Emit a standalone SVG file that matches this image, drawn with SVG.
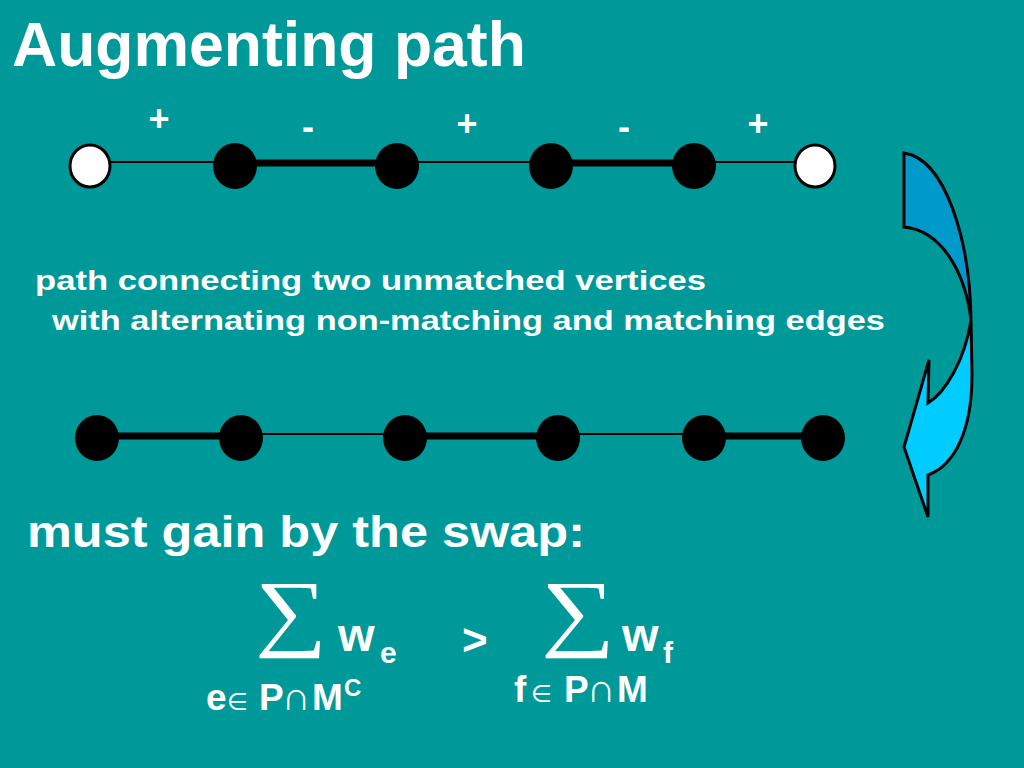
<svg xmlns="http://www.w3.org/2000/svg" width="1024" height="768" viewBox="0 0 1024 768">
<style>
.t{font-family:"Liberation Sans",Arial,sans-serif;font-weight:bold;fill:#fff}
.sym{font-family:"DejaVu Sans",sans-serif;font-weight:normal}
.cap{font-family:"Liberation Sans",Arial,sans-serif;font-weight:normal}
.blk{fill:#000}
.wht{fill:#fff;stroke:#000;stroke-width:3}
.thin{stroke:#000;stroke-width:2;fill:none}
.thick{stroke:#000;stroke-width:7;fill:none}
.sig{font-family:"Liberation Serif","DejaVu Serif",serif;fill:#fff}
</style>
<rect width="1024" height="768" fill="#009999"/>
<text class="t" x="12" y="66" font-size="62.5">Augmenting path</text>
<g id="signs">
<text class="t" x="159" y="131" font-size="36" text-anchor="middle">+</text>
<text class="t" x="308" y="139" font-size="36" text-anchor="middle">-</text>
<text class="t" x="467" y="136" font-size="36" text-anchor="middle">+</text>
<text class="t" x="624" y="139" font-size="36" text-anchor="middle">-</text>
<text class="t" x="758" y="136" font-size="36" text-anchor="middle">+</text>
</g>
<g id="connectors">
<line class="thin" x1="90" y1="162" x2="235" y2="162"/>
<line class="thick" x1="235" y1="163" x2="397" y2="163"/>
<line class="thin" x1="397" y1="162" x2="551" y2="162"/>
<line class="thick" x1="551" y1="163" x2="694" y2="163"/>
<line class="thin" x1="694" y1="162" x2="815" y2="162"/>
<line class="thick" x1="97" y1="436" x2="241" y2="436"/>
<line class="thin" x1="241" y1="434" x2="405" y2="434"/>
<line class="thick" x1="405" y1="436" x2="558" y2="436"/>
<line class="thin" x1="558" y1="434" x2="704" y2="434"/>
<line class="thick" x1="704" y1="436" x2="823" y2="436"/>
</g>
<g id="n1"><ellipse class="wht" cx="90" cy="166" rx="20" ry="21"/></g>
<g id="n2"><ellipse class="blk" cx="235" cy="166" rx="22" ry="23"/></g>
<g id="n3"><ellipse class="blk" cx="397" cy="166" rx="22" ry="23"/></g>
<g id="n4"><ellipse class="blk" cx="551" cy="166" rx="22" ry="23"/></g>
<g id="n5"><ellipse class="blk" cx="694" cy="166" rx="22" ry="23"/></g>
<g id="n6"><ellipse class="wht" cx="815" cy="166" rx="20" ry="21"/></g>
<g id="m1"><ellipse class="blk" cx="97" cy="438" rx="22" ry="23"/></g>
<g id="m2"><ellipse class="blk" cx="241" cy="438" rx="22" ry="23"/></g>
<g id="m3"><ellipse class="blk" cx="405" cy="438" rx="22" ry="23"/></g>
<g id="m4"><ellipse class="blk" cx="558" cy="438" rx="22" ry="23"/></g>
<g id="m5"><ellipse class="blk" cx="704" cy="438" rx="22" ry="23"/></g>
<g id="m6"><ellipse class="blk" cx="823" cy="438" rx="22" ry="23"/></g>
<g id="arrow" stroke="#000" stroke-width="3" stroke-linejoin="miter">
<path d="M904,153 C945,158 970,240 971,320 C965,270 940,230 904,227 Z" fill="#0099cc"/>
<path d="M971,320 L972,375 C972,430 955,465 928,475 L928,517 L904,447 L929,360 L928,403 C945,393 965,360 971,320 Z" fill="#00ccff"/>
</g>
<text class="t" x="35" y="290" font-size="27" textLength="671" lengthAdjust="spacingAndGlyphs">path connecting two unmatched vertices</text>
<text class="t" x="52" y="330" font-size="27" textLength="833" lengthAdjust="spacingAndGlyphs">with alternating non-matching and matching edges</text>
<text class="t" x="27" y="547" font-size="44" textLength="558" lengthAdjust="spacingAndGlyphs">must gain by the swap:</text>
<g id="formula">
<text class="sig" x="255" y="640" font-size="86" textLength="72" lengthAdjust="spacingAndGlyphs">∑</text>
<text class="t" x="338" y="651" font-size="47">w</text>
<text class="t" x="380" y="663" font-size="30">e</text>
<text class="t" x="462" y="655" font-size="44">&gt;</text>
<text class="sig" x="541" y="640" font-size="86" textLength="74" lengthAdjust="spacingAndGlyphs">∑</text>
<text class="t" x="622" y="651" font-size="47">w</text>
<text class="t" x="663" y="663" font-size="30">f</text>
<text class="t" font-size="37" y="710"><tspan x="206">e</tspan><tspan class="sym" x="227" font-size="24">∈</tspan><tspan x="259">P</tspan><tspan class="cap" x="282" font-size="40">∩</tspan><tspan x="312">M</tspan><tspan x="344" font-size="24" dy="-14">C</tspan></text>
<text class="t" font-size="37" y="702"><tspan x="514">f</tspan><tspan class="sym" x="531" font-size="24">∈</tspan><tspan x="564">P</tspan><tspan class="cap" x="587" font-size="40">∩</tspan><tspan x="617">M</tspan></text>
</g>
</svg>
